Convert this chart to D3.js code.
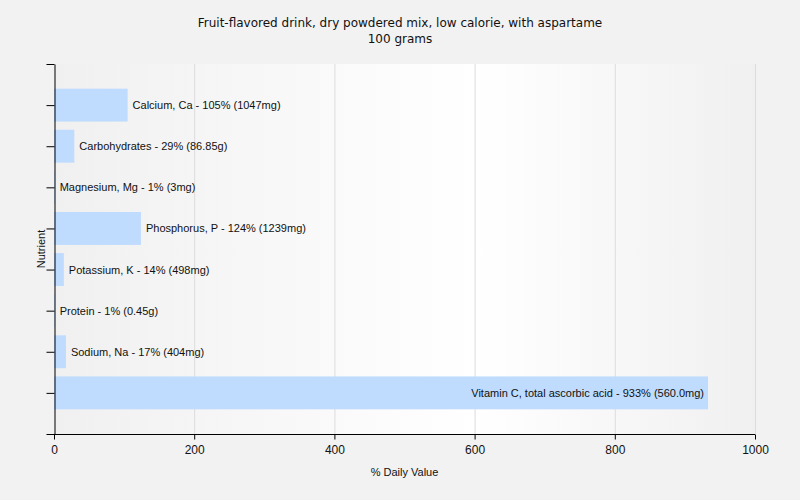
<!DOCTYPE html>
<html><head><meta charset="utf-8">
<script src="https://cdn.jsdelivr.net/npm/d3@7"></script>
<style>body{margin:0;background:#f2f2f2;}svg{display:block;}</style>
</head><body>
<script>
const titleLines = ["Fruit-flavored drink, dry powdered mix, low calorie, with aspartame", "100 grams"];
const nutrients = ["Calcium, Ca", "Carbohydrates", "Magnesium, Mg", "Phosphorus, P", "Potassium, K", "Protein", "Sodium, Na", "Vitamin C, total ascorbic acid"];
const values = [105, 29, 1, 124, 14, 1, 17, 933];
const amounts = ["1047mg", "86.85g", "3mg", "1239mg", "498mg", "0.45g", "404mg", "560.0mg"];
const xTicks = [0, 200, 400, 600, 800, 1000];
const xLabel = "% Daily Value";
const yLabel = "Nutrient";

const W = 800, H = 500;
const m = {left: 54, right: 45, top: 64, bottom: 66};
const svg = d3.select("body").append("svg").attr("width", W).attr("height", H);
svg.append("rect").attr("width", W).attr("height", H).attr("fill", "#f2f2f2");

const x = d3.scaleLinear().domain([0, 1000]).range([m.left, W - m.right]);
const y = d3.scalePoint().domain(nutrients).range([m.top, H - m.bottom]).padding(1);
const step = y.step();

const defs = svg.append("defs");
const grad = defs.append("linearGradient").attr("id", "bg").attr("x1", "0").attr("x2", "1").attr("y1", "0").attr("y2", "0");
grad.append("stop").attr("offset", "0").attr("stop-color", "#f0f0f0");
grad.append("stop").attr("offset", "0.6").attr("stop-color", "#ffffff");
grad.append("stop").attr("offset", "1").attr("stop-color", "#f0f0f0");

svg.append("rect").attr("x", m.left).attr("y", m.top)
  .attr("width", x(1000) - m.left).attr("height", H - m.bottom - m.top)
  .attr("fill", "url(#bg)");

// gridlines
svg.append("g").selectAll("line").data(xTicks.filter(d => d > 0)).join("line")
  .attr("x1", d => x(d) + 0.5).attr("x2", d => x(d) + 0.5)
  .attr("y1", m.top).attr("y2", H - m.bottom)
  .attr("stroke", "#dcdcdc").attr("stroke-width", 1);

const font = "Liberation Sans, Arial, sans-serif";
const barH = step * 0.8;

svg.append("g").selectAll("rect").data(nutrients).join("rect")
  .attr("x", x(0)).attr("y", d => y(d) - barH / 2)
  .attr("width", (d, i) => x(values[i]) - x(0)).attr("height", barH)
  .attr("fill", "#bfdbfe");

svg.append("g").selectAll("text").data(nutrients).join("text")
  .attr("font-family", font).attr("font-size", 11).attr("fill", "#111")
  .attr("dominant-baseline", "central")
  .attr("y", d => y(d))
  .attr("x", (d, i) => values[i] > 500 ? x(values[i]) - 4 : x(values[i]) + 5)
  .attr("text-anchor", (d, i) => values[i] > 500 ? "end" : "start")
  .text((d, i) => `${d} - ${values[i]}% (${amounts[i]})`);

// y axis
const yIdx = d3.scaleLinear().domain([0, nutrients.length + 1]).range([m.top, H - m.bottom]);
const yAxis = d3.axisLeft(yIdx).tickValues(d3.range(0, nutrients.length + 2)).tickFormat("").tickSize(8).tickSizeOuter(0);
const gy = svg.append("g").attr("transform", `translate(${m.left + 0.5},0)`).call(yAxis);
gy.selectAll("path,line").attr("stroke", "#000");

// x axis
const xAxis = d3.axisBottom(x).tickValues(xTicks).tickFormat(d3.format("d")).tickSize(5).tickSizeOuter(0);
const gx = svg.append("g").attr("transform", `translate(0,${H - m.bottom + 0.5})`).call(xAxis);
gx.selectAll("path,line").attr("stroke", "#000");
gx.select(".domain").attr("d", `M${m.left},0H${x(1000)}`);
gx.selectAll("text").attr("font-family", font).attr("font-size", 12).attr("fill", "#111").attr("dy", "0.95em");

svg.append("text").attr("x", (m.left + x(1000)) / 2).attr("y", 476)
  .attr("text-anchor", "middle").attr("font-family", font).attr("font-size", 11).attr("fill", "#111").text(xLabel);

svg.append("text").attr("transform", `translate(45,${(m.top + H - m.bottom) / 2}) rotate(-90)`)
  .attr("text-anchor", "middle").attr("font-family", font).attr("font-size", 11).attr("fill", "#111").text(yLabel);

const t = svg.append("text").attr("text-anchor", "middle").attr("font-family", "DejaVu Sans, sans-serif").attr("font-size", 12).attr("fill", "#111");
titleLines.forEach((s, i) => t.append("tspan").attr("x", W / 2).attr("y", 27 + i * 16).text(s));
</script>
</body></html>
